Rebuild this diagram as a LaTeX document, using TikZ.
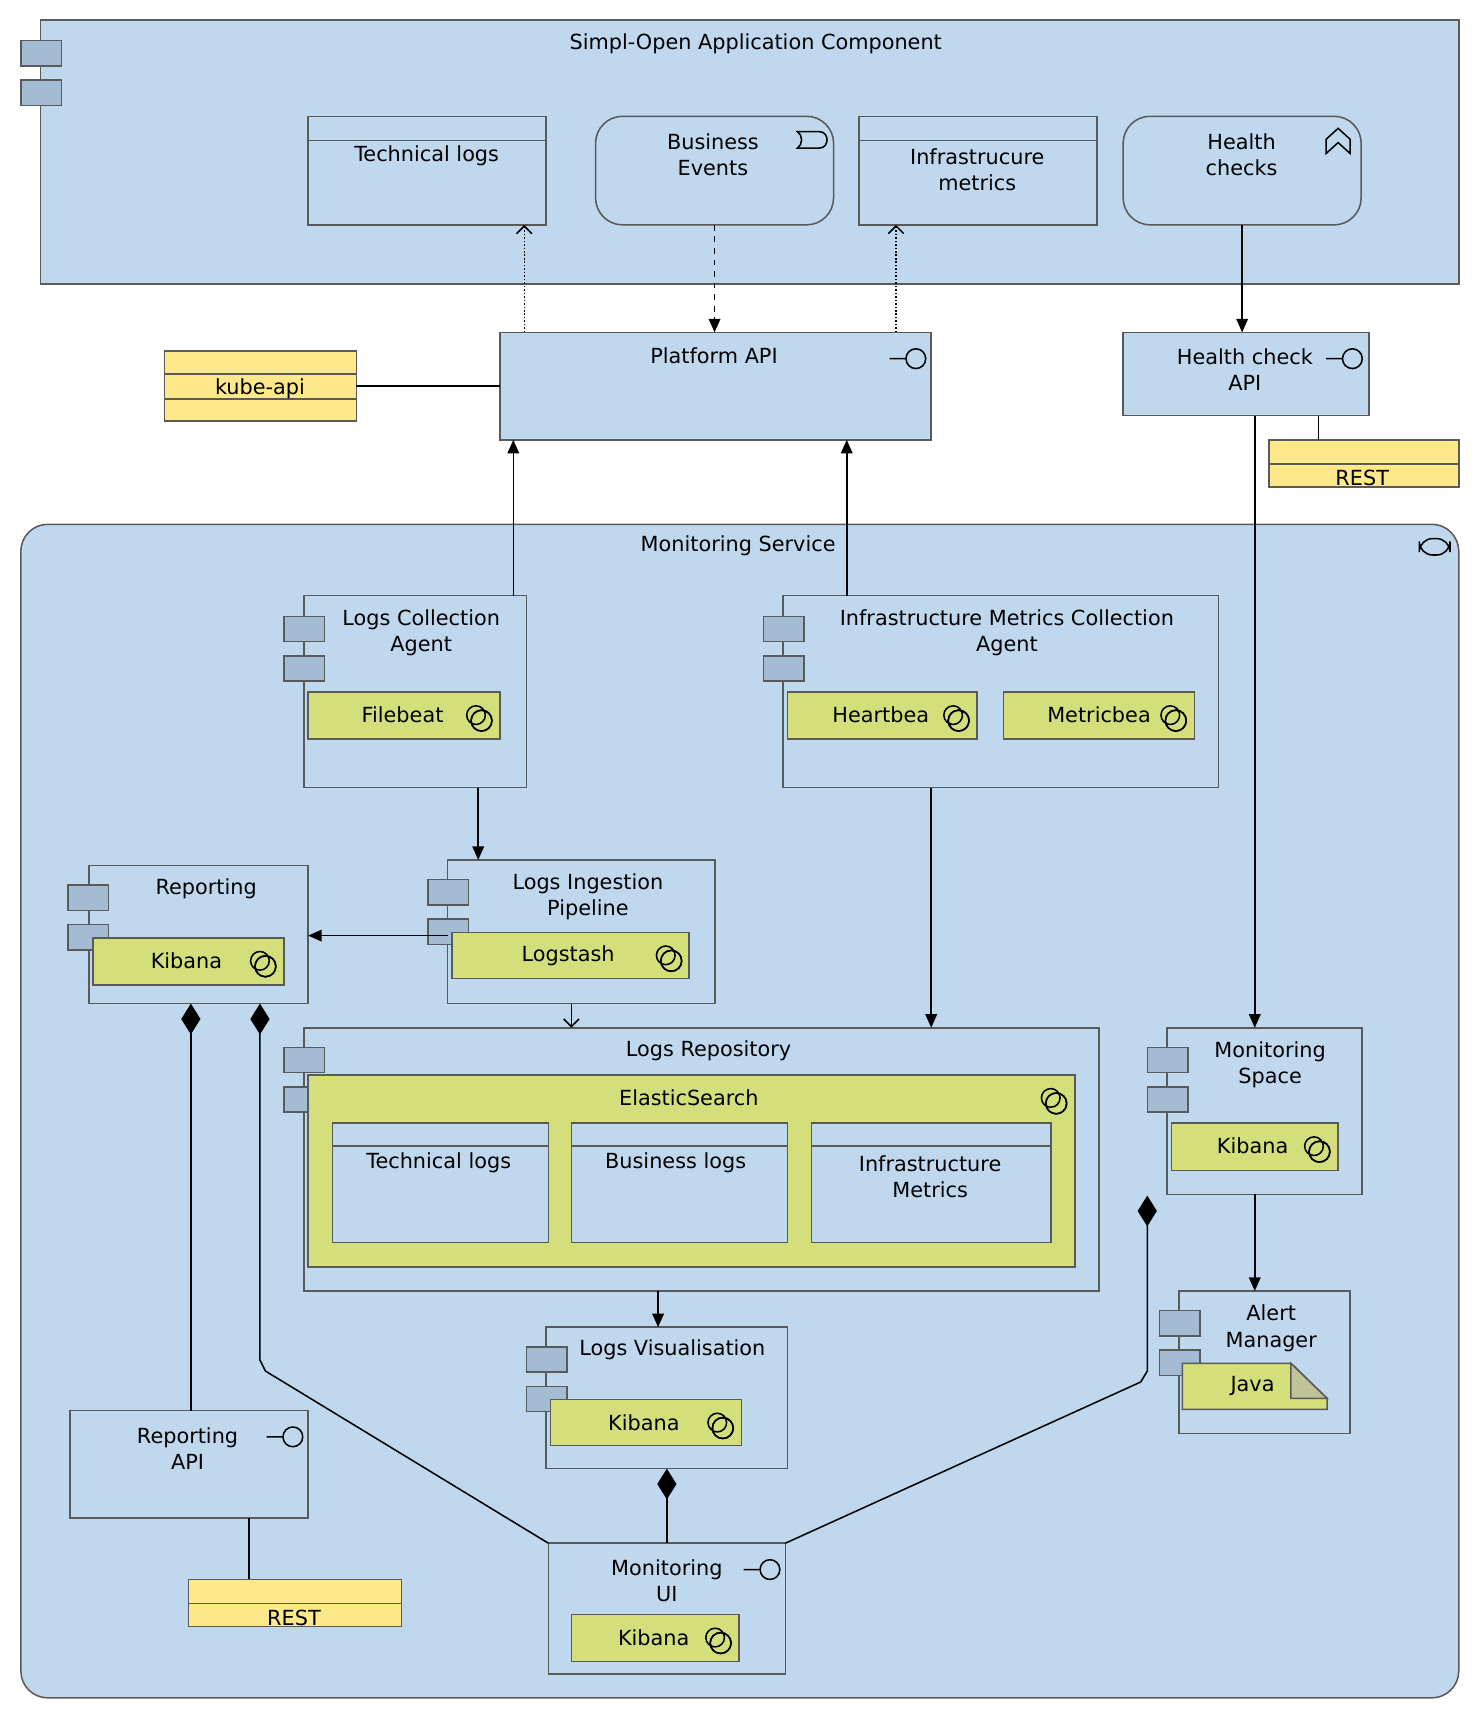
\documentclass[tikz,border=0pt]{standalone}
\usepackage{fontspec}
\setmainfont{DejaVu Sans}
\usetikzlibrary{arrows.meta, calc}

\definecolor{appblue}{HTML}{BFD8EE}
\definecolor{iconblue}{HTML}{A3BBD3}
\definecolor{artyellow}{HTML}{FDE98A}
\definecolor{sysgreen}{HTML}{D4DE7A}
\definecolor{edge}{HTML}{5A5A5A}

\tikzset{
  blk/.style={draw=edge, fill=appblue, inner sep=0pt, outer sep=0pt},
  rblk/.style={blk, rounded corners=14pt},
  art/.style={draw=edge, fill=artyellow, inner sep=0pt, outer sep=0pt},
  sys/.style={draw=edge, fill=sysgreen, inner sep=0pt, outer sep=0pt},
  lbl/.style={font=\fontsize{10.8}{13.5}\selectfont, align=center, inner sep=0pt},
  flow/.style={-{Triangle[length=7pt,width=6pt]}, black},
  comp/.style={{Diamond[length=16pt,width=10pt,fill=black]}-, black},
}

% name, style, x1, y1, x2, y2
\newcommand\bx[6]{\node[#2, minimum width={(#5-#3)*0.02cm}, minimum height={(#6-#4)*0.02cm}]
  (#1) at ({(#3+#5)/2},{(#4+#6)/2}) {};}
% component icon
\newcommand\cico[2]{\draw[draw=edge, fill=iconblue] (#1,#2) rectangle ++(37,23) (#1,#2+36) rectangle ++(37,23);}
% interface icon
\newcommand\iico[2]{\draw[black, thick] (#1,#2) circle (9) (#1-9,#2) -- ++(-15,0);}
% service icon
\newcommand\sico[2]{\draw[black, thick] (#1+2,#2+2) circle (9.5) (#1-3,#2-3) circle (8.5);
  \fill[sysgreen] (#1+2,#2+2) circle (8.3);
  \draw[black, thick] (#1+2,#2+2) circle (9.5);
  \begin{scope}\clip (#1+2,#2+2) circle (9.5); \draw[black, thick] (#1-3,#2-3) circle (8.5); \end{scope}}

\begin{document}
\begin{tikzpicture}[x=0.02cm, y=-0.02cm, line width=0.8pt]
\useasboundingbox (0,0) rectangle (1350,1570);

% application component
\bx{app}{blk}{37}{18}{1330}{259}
\cico{19}{37}
\node[lbl] at (689,40) {Simpl-Open Application Component};

\bx{tlog}{blk}{281}{106}{498}{205}
\draw[edge] (281,128) -- (498,128);
\node[lbl] at (389,142) {Technical logs};
\bx{bev}{rblk}{543}{106}{760}{205}
\node[lbl] at (650,141) {Business\\Events};
\draw[black, thick] (727,120) -- (747,120) to[out=0,in=0,looseness=1.6] (747,135) -- (727,135)
  to[out=30,in=-30] cycle;
\bx{imet}{blk}{783}{106}{1000}{205}
\draw[edge] (783,128) -- (1000,128);
\node[lbl] at (891,155) {Infrastrucure\\metrics};
\bx{hchk}{rblk}{1024}{106}{1241}{205}
\node[lbl] at (1132,141) {Health\\checks};
\draw[black, thick] (1209,140) -- (1209,127) -- (1220,117) -- (1231,127) -- (1231,140) -- (1220,130) -- cycle;

% apis
\bx{papi}{blk}{456}{303}{849}{401}
\node[lbl] at (651,324) {Platform API};
\iico{835}{327}
\bx{kube}{art}{150}{320}{325}{384}
\draw[edge] (150,341) -- (325,341) (150,364) -- (325,364);
\node[lbl] at (237,354) {kube-api};
\bx{hapi}{blk}{1024}{303}{1248}{379}
\node[lbl] at (1135,337) {Health check\\API};
\iico{1233}{327}
\bx{rest1}{art}{1157}{401}{1330}{444}
\draw[edge] (1157,423) -- (1330,423);
\node[lbl] at (1242,436) {REST};

% monitoring service
\bx{mon}{rblk}{19}{478}{1330}{1548}
\node[lbl] at (673,498) {Monitoring Service};
\draw[black, thick, rounded corners=7pt] (1294,491) rectangle (1322,506);

\bx{lca}{blk}{277}{543}{480}{718}
\cico{259}{562}
\node[lbl] at (384,577) {Logs Collection\\Agent};
\bx{fbeat}{sys}{281}{631}{456}{674}
\node[lbl] at (367,652) {Filebeat}; \sico{437}{655}

\bx{imca}{blk}{714}{543}{1111}{718}
\cico{696}{562}
\node[lbl] at (918,577) {Infrastructure Metrics Collection\\Agent};
\bx{hbeat}{sys}{718}{631}{891}{674}
\node[lbl] at (803,652) {Heartbea}; \sico{872}{655}
\bx{mbeat}{sys}{915}{631}{1089}{674}
\node[lbl] at (1002,652) {Metricbea}; \sico{1070}{655}

\bx{rep}{blk}{81}{789}{281}{915}
\cico{62}{807}
\node[lbl] at (188,810) {Reporting};
\bx{rkib}{sys}{85}{855}{259}{898}
\node[lbl] at (170,876) {Kibana}; \sico{240}{879}

\bx{lip}{blk}{408}{784}{652}{915}
\cico{390}{802}
\node[lbl] at (536,818) {Logs Ingestion\\Pipeline};
\bx{lstash}{sys}{412}{850}{628}{892}
\node[lbl] at (518,871) {Logstash}; \sico{610}{874}

\bx{lrep}{blk}{277}{937}{1002}{1177}
\cico{259}{955}
\node[lbl] at (646,958) {Logs Repository};
\bx{es}{sys}{281}{980}{980}{1155}
\node[lbl] at (628,1001) {ElasticSearch}; \sico{961}{1004}
\bx{etl}{blk}{303}{1024}{500}{1133}
\bx{ebl}{blk}{521}{1024}{718}{1133}
\bx{eim}{blk}{740}{1024}{958}{1133}
\draw[edge] (303,1045) -- (500,1045) (521,1045) -- (718,1045) (740,1045) -- (958,1045);
\node[lbl] at (400,1060) {Technical logs};
\node[lbl] at (616,1060) {Business logs};
\node[lbl] at (848,1073) {Infrastructure\\Metrics};

\bx{mspace}{blk}{1064}{937}{1242}{1089}
\cico{1046}{955}
\node[lbl] at (1158,971) {Monitoring\\Space};
\bx{mkib}{sys}{1068}{1024}{1220}{1067}
\node[lbl] at (1142,1045) {Kibana}; \sico{1201}{1048}

\bx{alert}{blk}{1075}{1177}{1231}{1307}
\cico{1057}{1195}
\node[lbl] at (1159,1211) {Alert\\Manager};
\draw[edge, fill=sysgreen] (1078,1243) -- (1177,1243) -- (1210,1275) -- (1210,1285) -- (1078,1285) -- cycle;
\draw[edge, fill=sysgreen!70!black!60] (1177,1243) -- (1177,1275) -- (1210,1275) -- cycle;
\coordinate (java) at (1142,1264);
\node[lbl] at (java) {Java};

\bx{lvis}{blk}{498}{1210}{718}{1339}
\cico{480}{1228}
\node[lbl] at (613,1231) {Logs Visualisation};
\bx{vkib}{sys}{502}{1276}{676}{1318}
\node[lbl] at (587,1297) {Kibana}; \sico{657}{1300}

\bx{rapi}{blk}{64}{1286}{281}{1384}
\node[lbl] at (171,1321) {Reporting\\API};
\iico{267}{1310}
\bx{rest2}{art}{172}{1440}{366}{1483}
\draw[edge] (172,1462) -- (366,1462);
\node[lbl] at (268,1475) {REST};

\bx{mui}{blk}{500}{1407}{716}{1526}
\node[lbl] at (608,1441) {Monitoring\\UI};
\iico{702}{1431}
\bx{ukib}{sys}{521}{1472}{674}{1515}
\node[lbl] at (596,1493) {Kibana}; \sico{655}{1496}

% connectors
\draw[densely dotted, -{Straight Barb[length=4pt]}] (papi.north west -| 478,0) -- (tlog.south -| 478,0);
\draw[dashed, flow] (bev.south) -- (papi.north -| bev.south);
\draw[densely dotted, -{Straight Barb[length=4pt]}] (papi.north west -| 817,0) -- (imet.south -| 817,0);
\draw[flow] (hchk.south) -- (hapi.north -| hchk.south);
\draw (kube.east) -- (papi.west |- kube.east);
\draw (hapi.south -| 1202,0) -- (rest1.north -| 1202,0);
\draw[flow] (lca.north -| 468,0) -- (papi.south -| 468,0);
\draw[flow] (imca.north -| 772,0) -- (papi.south -| 772,0);
\draw[flow] (hapi.south -| 1144,0) -- (mspace.north -| 1144,0);
\draw[flow] (lca.south -| 436,0) -- (lip.north -| 436,0);
\draw[flow] (lip.west |- 0,853) -- (rep.east |- 0,853);
\draw[-{Straight Barb[length=4pt]}] (lip.south -| 521,0) -- (lrep.north -| 521,0);
\draw[flow] (imca.south -| 849,0) -- (lrep.north -| 849,0);
\draw[flow] (lrep.south -| 600,0) -- (lvis.north -| 600,0);
\draw[flow] (mspace.south -| 1144,0) -- (alert.north -| 1144,0);
\draw (rapi.south -| 227,0) -- (rest2.north -| 227,0);
\draw[comp] (rep.south -| 174,0) -- (rapi.north -| 174,0);
\draw[comp] (rep.south -| 237,0) -- (237,1240) -- (242,1250) -- (mui.north west);
\draw[comp] (lvis.south -| 608,0) -- (mui.north -| 608,0);
\coordinate (msd) at (1046,1090);
\draw[comp] (msd) -- (1046,1250) -- (1040,1260) -- (mui.north east);
\end{tikzpicture}
\end{document}
